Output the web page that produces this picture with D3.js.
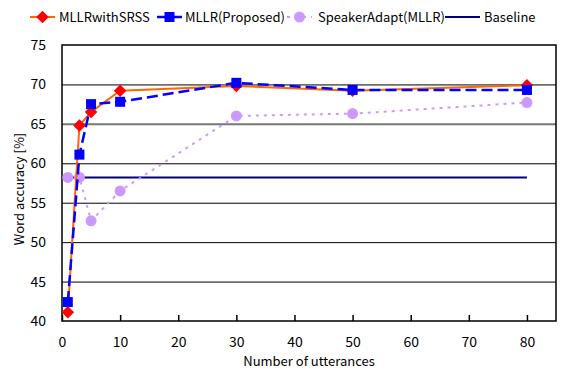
<!DOCTYPE html>
<html>
<head>
<meta charset="utf-8">
<script src="https://cdn.jsdelivr.net/npm/d3@7"></script>
<style>
  body { margin: 0; background: #fff; }
  text { font-family: "Noto Sans CJK JP", "DejaVu Sans", sans-serif; fill: #000; }
</style>
</head>
<body>
<div id="chart"></div>
<script>
// data
var utterances = [1, 3, 5, 10, 30, 50, 80];
var srss = [41.1, 64.8, 66.5, 69.2, 69.8, 69.2, 69.9];
var proposed = [42.4, 61.1, 67.5, 67.8, 70.2, 69.3, 69.3];
var speakerAdapt = [58.2, 58.2, 52.7, 56.5, 66.0, 66.3, 67.7];
var baseline = [58.2, 58.2, 58.2, 58.2, 58.2, 58.2, 58.2];
var seriesNames = ['MLLRwithSRSS', 'MLLR(Proposed)', 'SpeakerAdapt(MLLR)', 'Baseline'];
var xTicks = [0, 10, 20, 30, 40, 50, 60, 70, 80];
var yTicks = [40, 45, 50, 55, 60, 65, 70, 75];

var width = 565, height = 369;
var margin = { left: 62, right: 9, top: 45, bottom: 48 };

var svg = d3.select('#chart').append('svg')
            .attr('width', width)
            .attr('height', height);

var x = d3.scaleLinear().domain([0, 85]).range([margin.left, width - margin.right]);
var y = d3.scaleLinear().domain([40, 75]).range([height - margin.bottom, margin.top]);

// horizontal grid lines
svg.append('g')
   .selectAll('line')
   .data(yTicks.slice(1, -1)).enter()
   .append('line')
   .attr('x1', x(0)).attr('x2', x(85))
   .attr('y1', function(d) { return y(d) + 0.5; })
   .attr('y2', function(d) { return y(d) + 0.5; })
   .attr('stroke', function(d) { return d === 65 ? '#777' : '#000'; })
   .attr('stroke-width', function(d) { return d === 65 ? 2 : 1; });

// plot frame
svg.append('rect')
   .attr('x', x(0)).attr('y', y(75))
   .attr('width', x(85) - x(0)).attr('height', y(40) - y(75))
   .attr('fill', 'none').attr('stroke', '#000').attr('stroke-width', 1.5);

// x axis with inward ticks
var xAxis = d3.axisBottom(x).tickValues(xTicks).tickSizeInner(-6).tickSizeOuter(0).tickPadding(16);
svg.append('g')
   .attr('transform', 'translate(0,' + y(40) + ')')
   .call(xAxis)
   .call(function(g) { g.select('.domain').remove(); })
   .call(function(g) { g.selectAll('line').attr('stroke', '#000').attr('stroke-width', 1.5); })
   .selectAll('text')
     .style('font-size', '14px')
     .style('font-family', '"Noto Sans CJK JP", sans-serif');

var yAxis = d3.axisLeft(y).tickValues(yTicks).tickSize(0).tickPadding(16);
svg.append('g')
   .attr('transform', 'translate(' + x(0) + ',0)')
   .call(yAxis)
   .call(function(g) { g.select('.domain').remove(); })
   .selectAll('text')
     .style('font-size', '14px')
     .style('font-family', '"Noto Sans CJK JP", sans-serif');

// axis titles
svg.append('text')
   .attr('x', x(42.5)).attr('y', 366)
   .attr('text-anchor', 'middle')
   .style('font-size', '13px')
   .text('Number of utterances');

svg.append('text')
   .attr('transform', 'translate(24,189) rotate(-90)')
   .attr('text-anchor', 'middle')
   .style('font-size', '13px')
   .text('Word accuracy [%]');

var line = d3.line()
             .x(function(d) { return x(d[0]); })
             .y(function(d) { return y(d[1]); });

function pairs(values) {
  return utterances.map(function(u, i) { return [u, values[i]]; });
}

// baseline
svg.append('path')
   .attr('d', line(pairs(baseline)))
   .attr('fill', 'none').attr('stroke', '#000080').attr('stroke-width', 2);

// speaker adapt (dotted, circles)
svg.append('path')
   .attr('d', line(pairs(speakerAdapt)))
   .attr('fill', 'none').attr('stroke', '#cc99ff').attr('stroke-width', 2)
   .attr('stroke-dasharray', '3,5');
svg.append('g').selectAll('circle')
   .data(pairs(speakerAdapt)).enter()
   .append('circle')
   .attr('cx', function(d) { return x(d[0]); })
   .attr('cy', function(d) { return y(d[1]); })
   .attr('r', 5.5)
   .attr('fill', '#cc99ff');

// SRSS (orange line, red diamonds)
svg.append('path')
   .attr('d', line(pairs(srss)))
   .attr('fill', 'none').attr('stroke', '#ff6600').attr('stroke-width', 2);

// proposed (blue dashed, squares)
svg.append('path')
   .attr('d', line(pairs(proposed)))
   .attr('fill', 'none').attr('stroke', '#0000ff').attr('stroke-width', 2.5)
   .attr('stroke-dasharray', '11,5');

var diamond = d3.symbol().type(d3.symbolDiamond2).size(100);
svg.append('g').selectAll('path')
   .data(pairs(srss)).enter()
   .append('path')
   .attr('d', diamond)
   .attr('transform', function(d) { return 'translate(' + x(d[0]) + ',' + y(d[1]) + ')'; })
   .attr('fill', '#ff0000');

svg.append('g').selectAll('rect')
   .data(pairs(proposed)).enter()
   .append('rect')
   .attr('x', function(d) { return x(d[0]) - 5; })
   .attr('y', function(d) { return y(d[1]) - 5; })
   .attr('width', 10).attr('height', 10)
   .attr('fill', '#0000ff');

// legend
var legendX = [30, 157, 287, 445];
var legendY = 17;
var legend = svg.append('g');

legend.append('line').attr('x1', legendX[0]).attr('x2', legendX[0] + 25)
      .attr('y1', legendY).attr('y2', legendY).attr('stroke', '#ff6600').attr('stroke-width', 2);
legend.append('path').attr('d', diamond)
      .attr('transform', 'translate(' + (legendX[0] + 12.5) + ',' + legendY + ')')
      .attr('fill', '#ff0000');

legend.append('line').attr('x1', legendX[1]).attr('x2', legendX[1] + 25)
      .attr('y1', legendY).attr('y2', legendY).attr('stroke', '#0000ff').attr('stroke-width', 2.5);
legend.append('rect').attr('x', legendX[1] + 7.5).attr('y', legendY - 5)
      .attr('width', 10).attr('height', 10).attr('fill', '#0000ff');

legend.append('line').attr('x1', legendX[2]).attr('x2', legendX[2] + 25)
      .attr('y1', legendY).attr('y2', legendY).attr('stroke', '#cc99ff').attr('stroke-width', 2)
      .attr('stroke-dasharray', '3,5');
legend.append('circle').attr('cx', legendX[2] + 12.5).attr('cy', legendY)
      .attr('r', 5.5).attr('fill', '#cc99ff');

legend.append('line').attr('x1', legendX[3]).attr('x2', legendX[3] + 35)
      .attr('y1', legendY).attr('y2', legendY).attr('stroke', '#000080').attr('stroke-width', 2);

var legendTextX = [59, 185, 318, 484];
legend.selectAll('text')
      .data(seriesNames).enter()
      .append('text')
      .attr('x', function(d, i) { return legendTextX[i]; })
      .attr('y', legendY + 5)
      .style('font-size', '13px')
      .text(function(d) { return d; });
</script>
</body>
</html>
